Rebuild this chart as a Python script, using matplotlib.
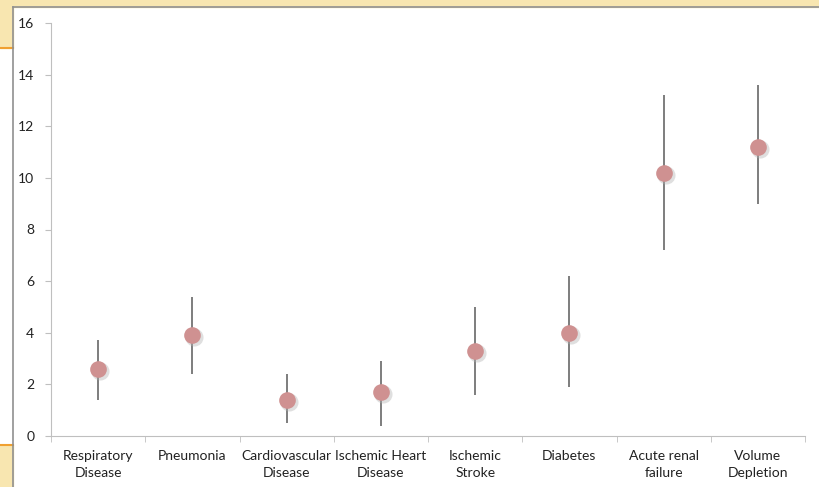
import numpy as np
import matplotlib.pyplot as plt
from matplotlib.patches import Rectangle
from matplotlib.lines import Line2D

categories = ["Respiratory\nDisease", "Pneumonia", "Cardiovascular\nDisease",
              "Ischemic Heart\nDisease", "Ischemic\nStroke", "Diabetes",
              "Acute renal\nfailure", "Volume\nDepletion"]
estimate = [2.6, 3.9, 1.4, 1.7, 3.3, 4.0, 10.2, 11.2]
lower = [1.4, 2.4, 0.5, 0.4, 1.6, 1.9, 7.2, 9.0]
upper = [3.7, 5.4, 2.4, 2.9, 5.0, 6.2, 13.2, 13.6]

plt.rcParams['font.family'] = ['Lato', 'DejaVu Sans']

fig = plt.figure(figsize=(8.19, 4.87), dpi=100)
W, H = 819, 487

# fond de la diapo derrière le graphique
gold = '#f8e6b0'
fig.patches.append(Rectangle((0, 1 - 7 / H), 1, 7 / H, transform=fig.transFigure,
                             color=gold, zorder=0))
fig.patches.append(Rectangle((0, 1 - 48 / H), 13 / W, 48 / H, transform=fig.transFigure,
                             color=gold, zorder=0))
fig.patches.append(Rectangle((0, 0), 13 / W, 1 - 445 / H, transform=fig.transFigure,
                             color=gold, zorder=0))
fig.lines.append(Line2D([0, 13 / W], [1 - 48 / H] * 2, transform=fig.transFigure,
                        color='#f0a030', lw=1.5))
fig.lines.append(Line2D([0, 13 / W], [1 - 445 / H] * 2, transform=fig.transFigure,
                        color='#f0a030', lw=1.5))
fig.lines.append(Line2D([13 / W, 1], [1 - 7 / H] * 2, transform=fig.transFigure,
                        color='#909090', lw=1.2))
fig.lines.append(Line2D([13 / W] * 2, [0, 1 - 7 / H], transform=fig.transFigure,
                        color='#909090', lw=1.2))

ax = fig.add_axes([51 / W, 1 - 436 / H, (805 - 51) / W, (436 - 23) / H])
ax.patch.set_alpha(0)

x = np.arange(len(categories))
est = np.array(estimate)
err = [est - np.array(lower), np.array(upper) - est]
ax.errorbar(x, est, yerr=err, fmt='none', ecolor='#5a5a5a', elinewidth=1.1, capsize=0)
# ombre + point
ax.plot(x + 0.02, est - 0.08, 'o', ms=13, color='#b0b0b0', alpha=0.4, zorder=3, mec='none')
ax.plot(x, est, 'o', ms=12, color='#cf9191', zorder=4, mec='none')

ax.set_xlim(-0.5, len(categories) - 0.5)
ax.set_ylim(0, 16)
ax.set_yticks(range(0, 17, 2))
ax.set_xticks(x)
ax.set_xticklabels(categories, fontsize=10, color='#222222', linespacing=1.55)
ax.set_xticks(np.arange(-0.5, len(categories), 1), minor=True)
ax.tick_params(axis='x', which='major', length=0, pad=10)
ax.tick_params(axis='x', which='minor', length=4, color='#bfbfbf')
ax.tick_params(axis='y', length=4, color='#bfbfbf', labelsize=10, labelcolor='#222222', pad=8)

for s in ['top', 'right']:
    ax.spines[s].set_visible(False)
for s in ['left', 'bottom']:
    ax.spines[s].set_color('#bfbfbf')

fig.savefig('out.png', dpi=100)
